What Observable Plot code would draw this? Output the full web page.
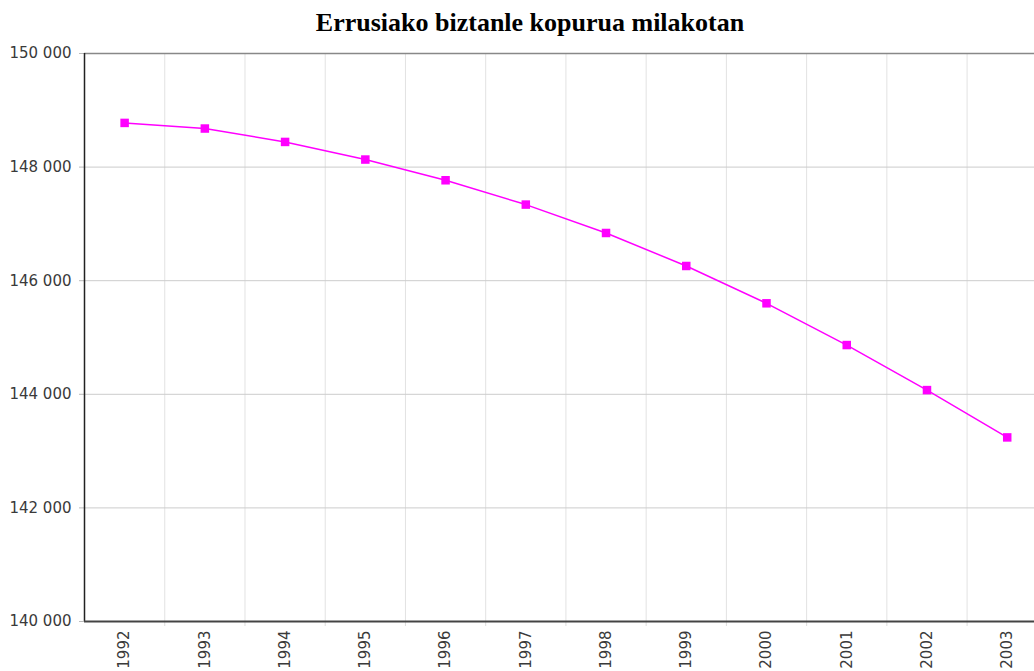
<!DOCTYPE html>
<html>
<head>
<meta charset="utf-8">
<script src="https://cdn.jsdelivr.net/npm/d3@7"></script>
<script src="https://cdn.jsdelivr.net/npm/@observablehq/plot@0.6"></script>
<style>
  html, body { margin: 0; padding: 0; background: #fff; overflow: hidden; }
  #title {
    width: 1034px; height: 40px; line-height: 46px; box-sizing: border-box;
    padding-left: 26px; text-align: center;
    font-family: "Liberation Serif", "Times New Roman", serif; font-weight: bold; font-size: 26px; color: #000;
  }
</style>
</head>
<body>
<div id="title">Errusiako biztanle kopurua milakotan</div>
<div id="chart"></div>
<script>
const years = [1992, 1993, 1994, 1995, 1996, 1997, 1998, 1999, 2000, 2001, 2002, 2003];
const population = [148778, 148679, 148443, 148133, 147768, 147340, 146840, 146259, 145602, 144867, 144074, 143241];
const yTicks = [140000, 142000, 144000, 146000, 148000, 150000];
const yGrid = [142000, 144000, 146000, 148000];

const data = years.map((y, i) => ({year: y, value: population[i]}));
const bounds = years.slice(0, -1).map(y => y + 0.5);
const fmt = d3.formatLocale({thousands: "\u00a0", grouping: [3], decimal: ","}).format(",d");

const chart = Plot.plot({
  width: 1034,
  height: 631,
  marginTop: 13,
  marginBottom: 50,
  marginLeft: 84,
  marginRight: 0,
  style: {fontFamily: "'DejaVu Sans', Verdana, sans-serif", fontSize: "15px", color: "#333", background: "#fff"},
  x: {domain: [1991.5, 2003.34]},
  y: {domain: [140000, 150000]},
  marks: [
    Plot.ruleX(bounds, {stroke: "#e2e2e2", strokeWidth: 1}),
    Plot.ruleY(yGrid, {stroke: "#cccccc", strokeWidth: 1}),
    Plot.ruleY([150000], {stroke: "#888", strokeWidth: 1.5}),
    Plot.axisY({ticks: yTicks, tickFormat: fmt, tickSize: 5, tickPadding: 8, fontSize: 15, stroke: "#bbb", fill: "#3a3a3a", label: null}),
    Plot.axisX({ticks: bounds, tickSize: 5, tickFormat: () => "", stroke: "#ddd", label: null}),
    Plot.axisX({ticks: years, tickSize: 0, tickPadding: 9, tickRotate: -90, fontSize: 15, tickFormat: d => String(d), fill: "#3a3a3a", label: null}),
    Plot.ruleX([1991.5], {stroke: "#222", strokeWidth: 1.5}),
    Plot.ruleY([140000], {stroke: "#444", strokeWidth: 2}),
    Plot.line(data, {x: "year", y: "value", stroke: "#ff00ff", strokeWidth: 1.5}),
    Plot.dot(data, {x: "year", y: "value", symbol: "square", r: 4.8, fill: "#ff00ff", stroke: "none"})
  ]
});
document.getElementById("chart").appendChild(chart);
</script>
</body>
</html>
